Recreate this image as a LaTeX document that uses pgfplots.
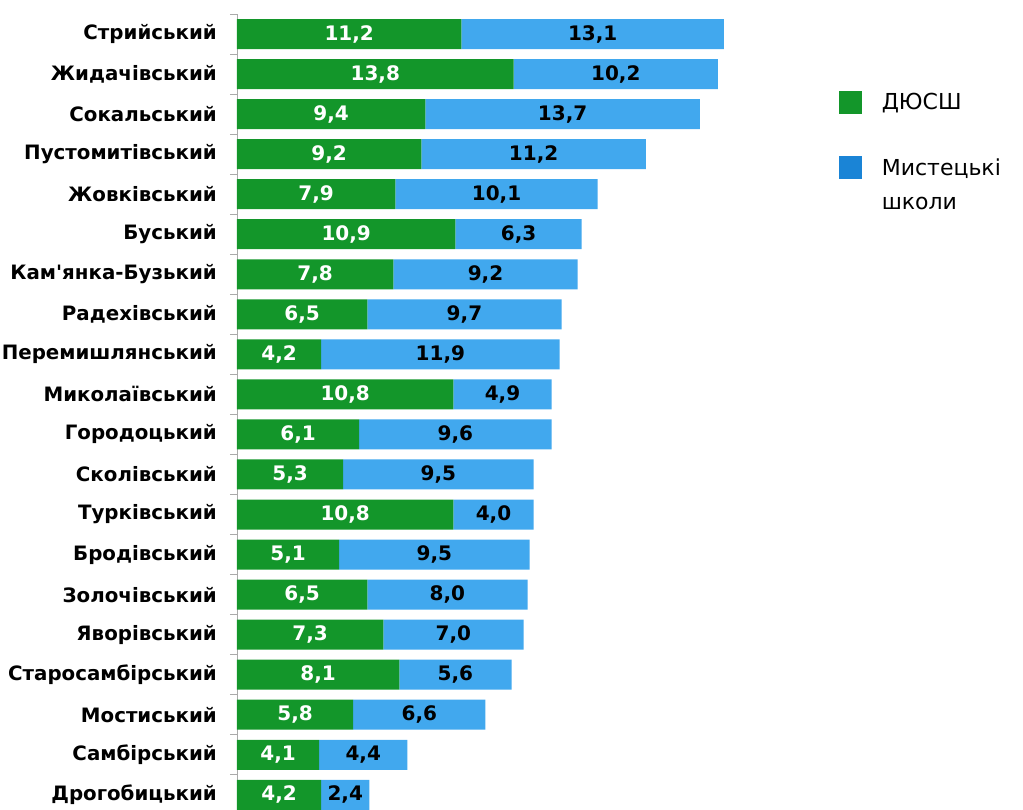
\documentclass[border=0pt]{standalone}
\usepackage{pgfplots}
\usepackage{pgfplotstable}
\pgfplotsset{compat=1.18}
\usepackage{fontspec}
\setmainfont{DejaVu Sans}
\definecolor{gbar}{RGB}{19,150,42}
\definecolor{bbar}{RGB}{65,168,238}
\definecolor{bleg}{RGB}{26,132,214}
\definecolor{axgray}{RGB}{170,170,170}
\pgfplotstableread[col sep=comma]{
name,g,b
Стрийський,11.2,13.1
Жидачівський,13.8,10.2
Сокальський,9.4,13.7
Пустомитівський,9.2,11.2
Жовківський,7.9,10.1
Буський,10.9,6.3
Кам\textquotesingle{}янка-Бузький,7.8,9.2
Радехівський,6.5,9.7
Перемишлянський,4.2,11.9
Миколаївський,10.8,4.9
Городоцький,6.1,9.6
Сколівський,5.3,9.5
Турківський,10.8,4.0
Бродівський,5.1,9.5
Золочівський,6.5,8.0
Яворівський,7.3,7.0
Старосамбірський,8.1,5.6
Мостиський,5.8,6.6
Самбірський,4.1,4.4
Дрогобицький,4.2,2.4
}\data
\begin{document}
\begin{tikzpicture}
\path[use as bounding box] (0,0) rectangle (1023pt,-810pt);
\begin{axis}[
  at={(237pt,-14pt)}, anchor=north west,
  scale only axis, width=501pt, height=796pt,
  xmin=0, xmax=25, ymin=-0.5, ymax=19.38,
  y dir=reverse,
  xbar stacked, bar width=30pt,
  hide x axis,
  axis y line*=left,
  y axis line style={axgray, line width=0.8pt},
  ytick={0,...,19},
  yticklabels from table={\data}{name},
  minor ytick={-0.5,0.5,...,19.5},
  major tick length=0pt,
  minor tick length=7pt,
  tick align=outside,
  every minor tick/.style={axgray, line width=0.8pt},
  yticklabel style={font=\bfseries\fontsize{19.8}{22}\selectfont, inner sep=0pt, xshift=-20pt},
  nodes near coords,
  every node near coord/.append style={font=\bfseries\fontsize{20}{24}\selectfont, anchor=center},
  /pgf/number format/.cd, use comma, fixed, fixed zerofill, precision=1, assume math mode=true,
  /pgfplots/.cd,
  legend style={draw=none, fill=none, at={(1.196,0.906)}, anchor=north west,
    font=\fontsize{22}{34}\selectfont, row sep=43pt, column sep=0pt,
    cells={anchor=west, align=left}},
  legend cell align=left,
  clip=true,
]
\addplot[fill=gbar, draw=none, forget plot,
  every node near coord/.append style={text=white}]
  table[x=g, y expr=\coordindex] {\data};
\addplot[fill=bbar, draw=none, forget plot,
  every node near coord/.append style={text=black}]
  table[x=b, y expr=\coordindex] {\data};
\addlegendimage{legend image code/.code={\fill[gbar] (0pt,-11pt) rectangle (22pt,11pt); \path (40pt,0pt);}}
\addlegendentry{ДЮСШ}
\addlegendimage{legend image code/.code={\fill[bleg] (0pt,6pt) rectangle (22pt,28pt); \path (40pt,0pt);}}
\addlegendentry{Мистецькі\\школи}
\end{axis}
\end{tikzpicture}
\end{document}
